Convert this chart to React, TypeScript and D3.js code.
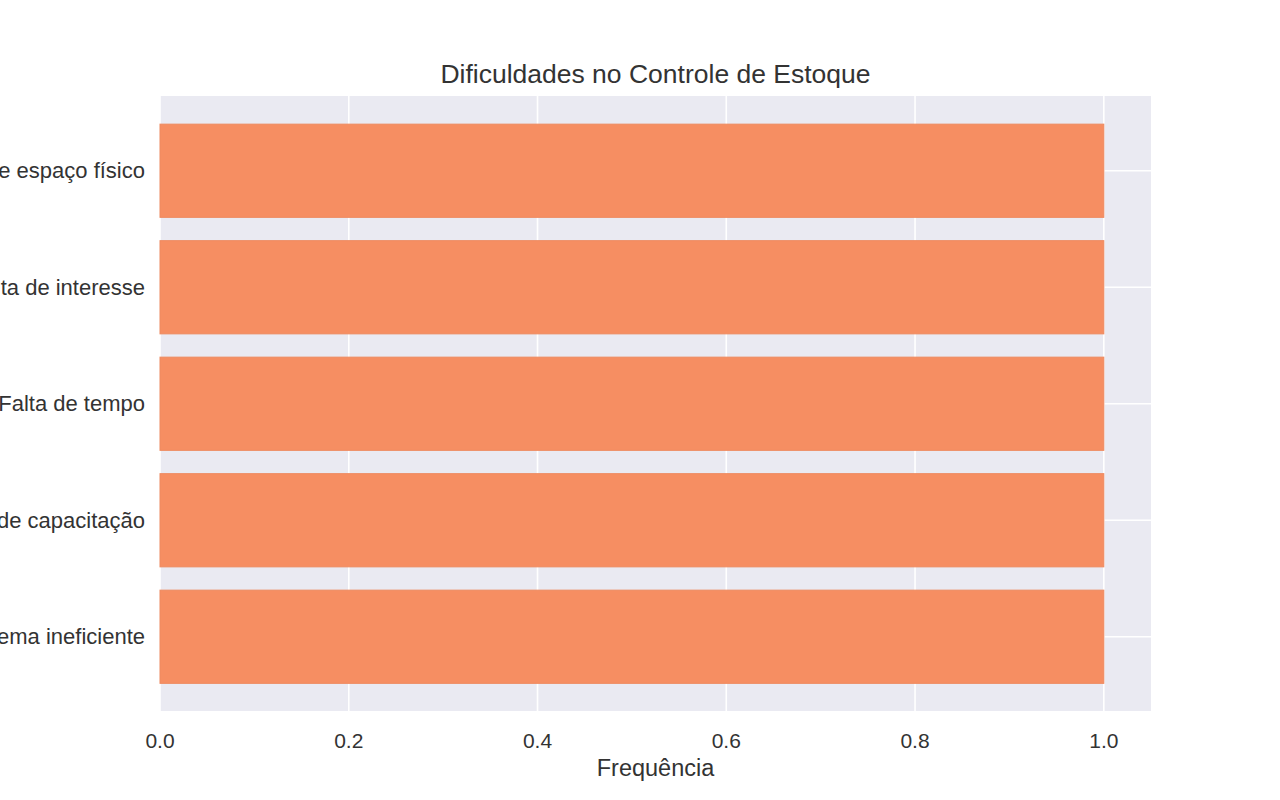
import { useRef, useEffect } from 'react';
import * as d3 from 'd3';

const categories = [
  'Falta de espaço físico',
  'Falta de interesse',
  'Falta de tempo',
  'Falta de capacitação',
  'Sistema ineficiente',
];
const frequencies = [1, 1, 1, 1, 1];
const xTicks = [0, 0.2, 0.4, 0.6, 0.8, 1.0];

const W = 1280;
const H = 800;

export default function App() {
  const svgRef = useRef<SVGSVGElement | null>(null);

  useEffect(() => {
    const svg = d3.select(svgRef.current);
    svg.selectAll('*').remove();

    // plot area
    const left = 160, right = 1151, top = 96, bottom = 711;
    const font = '"Liberation Sans", Arial, sans-serif';
    const textColor = '#333333';

    const x = d3.scaleLinear().domain([0, 1.05]).range([left, right]);
    const y = d3.scaleBand<string>()
      .domain(categories)
      .range([top + 16.5, bottom - 16])
      .paddingInner(0.2)
      .paddingOuter(0.1);

    // background
    svg.append('rect')
      .attr('x', left).attr('y', top)
      .attr('width', right - left).attr('height', bottom - top)
      .attr('fill', '#EAEAF2');

    // vertical grid
    svg.append('g').selectAll('line')
      .data(xTicks)
      .join('line')
      .attr('x1', d => x(d)).attr('x2', d => x(d))
      .attr('y1', top).attr('y2', bottom)
      .attr('stroke', '#ffffff').attr('stroke-width', 1.6);

    // horizontal grid at category centres
    svg.append('g').selectAll('line')
      .data(categories)
      .join('line')
      .attr('x1', left).attr('x2', right)
      .attr('y1', d => (y(d) ?? 0) + y.bandwidth() / 2)
      .attr('y2', d => (y(d) ?? 0) + y.bandwidth() / 2)
      .attr('stroke', '#ffffff').attr('stroke-width', 1.6);

    // bars
    svg.append('g').selectAll('rect')
      .data(categories)
      .join('rect')
      .attr('x', x(0))
      .attr('y', d => y(d) ?? 0)
      .attr('width', (d, i) => x(frequencies[i]) - x(0))
      .attr('height', y.bandwidth())
      .attr('fill', '#F68E62')
      .attr('stroke', '#EE8A60')
      .attr('stroke-width', 1);

    // x tick labels
    svg.append('g').selectAll('text')
      .data(xTicks)
      .join('text')
      .attr('x', d => x(d))
      .attr('y', bottom + 37)
      .attr('text-anchor', 'middle')
      .attr('font-family', font)
      .attr('font-size', 21)
      .attr('fill', textColor)
      .text(d => d.toFixed(1));

    // y tick labels
    svg.append('g').selectAll('text')
      .data(categories)
      .join('text')
      .attr('x', left - 15)
      .attr('y', d => (y(d) ?? 0) + y.bandwidth() / 2)
      .attr('dy', '0.35em')
      .attr('text-anchor', 'end')
      .attr('font-family', font)
      .attr('font-size', 22)
      .attr('fill', textColor)
      .text(d => d);

    // x axis label
    svg.append('text')
      .attr('x', (left + right) / 2)
      .attr('y', 776)
      .attr('text-anchor', 'middle')
      .attr('font-family', font)
      .attr('font-size', 23.5)
      .attr('fill', textColor)
      .text('Frequência');

    // title
    svg.append('text')
      .attr('x', (left + right) / 2)
      .attr('y', 83)
      .attr('text-anchor', 'middle')
      .attr('font-family', font)
      .attr('font-size', 26.5)
      .attr('fill', textColor)
      .text('Dificuldades no Controle de Estoque');
  }, []);

  return (
    <svg
      ref={svgRef}
      width={W}
      height={H}
      style={{ position: 'absolute', left: 0, top: 0, background: '#ffffff', overflow: 'hidden' }}
    />
  );
}
